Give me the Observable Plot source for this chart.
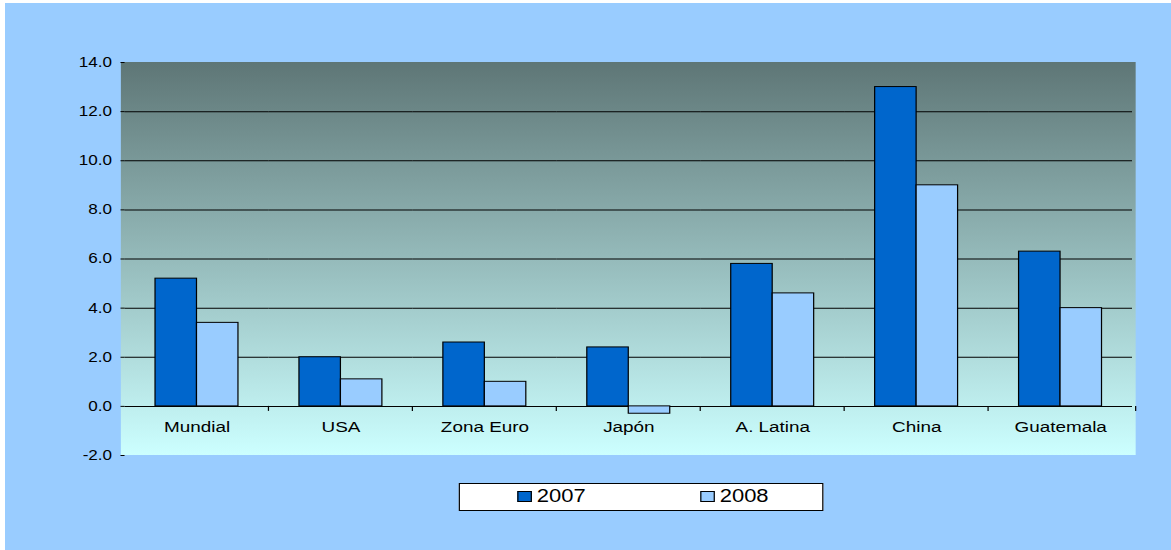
<!DOCTYPE html>
<html><head><meta charset="utf-8">
<script src="https://cdn.jsdelivr.net/npm/d3@7"></script>
<script src="https://cdn.jsdelivr.net/npm/@observablehq/plot@0.6"></script>
<style>
html,body{margin:0;padding:0;background:#fff;width:1171px;height:550px;overflow:hidden;}
#stage{position:absolute;left:5px;top:3px;width:956px;height:547px;background:#99CCFF;transform:scaleX(1.2197);transform-origin:0 0;font-family:"Liberation Sans",Arial,sans-serif;}
#chart{position:absolute;left:0;top:0;}
#legend{position:absolute;left:372px;top:480px;width:297px;height:26px;background:#fff;border:1px solid #000;}
.sw{position:absolute;top:7px;width:10px;height:9px;border:1px solid #000;}
.lt{position:absolute;top:2px;font-size:18px;line-height:21px;color:#000;white-space:nowrap;}
</style></head>
<body><div id="stage"><div id="chart"></div><div id="legend"></div></div>
<script>
const categories = ["Mundial", "USA", "Zona Euro", "Japón", "A. Latina", "China", "Guatemala"];
const years = ["2007", "2008"];
const values2007 = [5.2, 2.0, 2.6, 2.4, 5.8, 13.0, 6.3];
const values2008 = [3.4, 1.1, 1.0, -0.3, 4.6, 9.0, 4.0];
const yTicks = [-2, 0, 2, 4, 6, 8, 10, 12, 14];
const gridTicks = [0, 2, 4, 6, 8, 10, 12];
const colors = ["#0066CC", "#99CCFF"];

const data = categories.flatMap((c, i) => [
  {cat: c, year: years[0], value: values2007[i]},
  {cat: c, year: years[1], value: values2008[i]}
]);

const W = 956, H = 470, mL = 95, mR = 29, mT = 59, mB = 18;

const plot = Plot.plot({
  width: W,
  height: H,
  marginLeft: mL,
  marginRight: mR,
  marginTop: mT,
  marginBottom: mB,
  style: {background: "transparent", fontFamily: "'Liberation Sans', Arial, sans-serif", fontSize: "14px", color: "#000", overflow: "visible", maxWidth: "none"},
  fx: {domain: categories, padding: 0, axis: null, label: null},
  x: {domain: years, paddingInner: 0, paddingOuter: 0.72, align: 0.5, axis: null},
  y: {domain: [-2, 14], axis: null},
  color: {domain: years, range: colors},
  marks: [
    Plot.gridY(gridTicks, {stroke: "#000", strokeOpacity: 1, strokeWidth: 1}),
    Plot.barY(data, {fx: "cat", x: "year", y: "value", fill: "year", stroke: "#000", strokeWidth: 1}),
    Plot.text(categories, {fx: d => d, y: () => 0, text: d => d, dy: 21, fontSize: 15.5, fill: "#000"}),
    Plot.axisY({ticks: yTicks, tickFormat: d => d.toFixed(1), tickSize: 3.3, tickPadding: 7.4, line: true, label: null, fontSize: 14})
  ]
});

const svg = d3.select(plot);
const fx = plot.scale("fx"), ys = plot.scale("y");

// single gradient background behind the plotting area
const bg = svg.insert("g", ":first-child");
const defs = bg.append("defs");
const grad = defs.append("linearGradient").attr("id", "bgGrad")
  .attr("x1", 0).attr("y1", 0).attr("x2", 0).attr("y2", 1);
grad.append("stop").attr("offset", "0%").attr("stop-color", "#5E7676");
grad.append("stop").attr("offset", "100%").attr("stop-color", "#CCFFFF");
const x0 = fx.range[0], x1 = fx.range[1];
const yTop = ys.apply(14), yBot = ys.apply(-2);
bg.append("rect").attr("x", x0).attr("y", yTop)
  .attr("width", x1 - x0).attr("height", yBot - yTop)
  .attr("fill", "url(#bgGrad)");

// category separator ticks on the zero line
const y0 = ys.apply(0);
const bounds = categories.slice(1).map(c => fx.apply(c)).concat([x1]);
svg.append("g").attr("stroke", "#000")
  .selectAll("line").data(bounds).join("line")
  .attr("x1", d => d).attr("x2", d => d)
  .attr("y1", y0).attr("y2", y0 + 5);

document.getElementById("chart").appendChild(plot);

// legend
const legend = d3.select("#legend");
const swX = [46.6, 196.6], txX = [63, 213];
years.forEach((yr, i) => {
  legend.append("div").attr("class", "sw").style("left", swX[i] + "px").style("background", colors[i]);
  legend.append("div").attr("class", "lt").style("left", txX[i] + "px").text(yr);
});
</script></body></html>
